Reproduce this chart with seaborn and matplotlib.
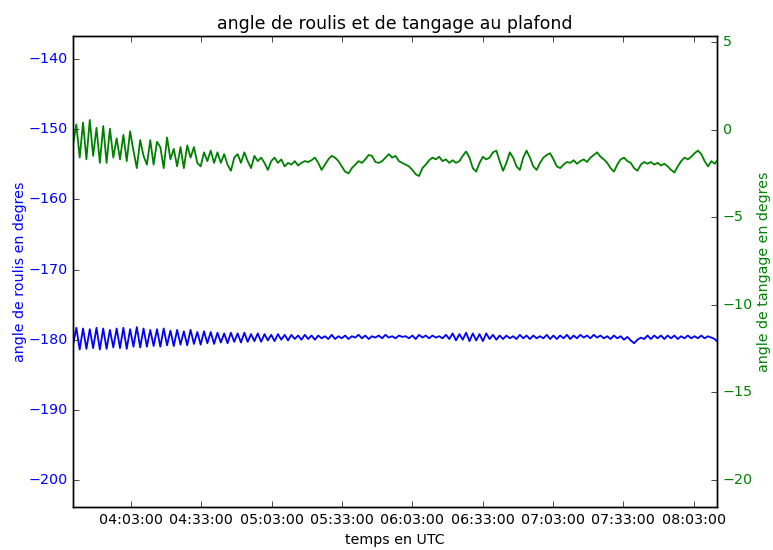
import matplotlib
matplotlib.use("Agg")
import matplotlib.pyplot as plt
import matplotlib.dates as mdates
import pandas as pd
import seaborn as sns

# Sampling of the attitude log (one sample every 86 s)
start_time = "2015-06-10 03:38:15"
sample_step = "86s"
x_start = "2015-06-10 03:38:15"
x_end = "2015-06-10 08:13:00"

# Roll angle (degrees)
roll = [
    -180.8, -178.3, -181.4, -178.4, -181.3, -178.5, -181.2, -178.3, -181.4, -178.4,
    -181.3, -178.6, -181.1, -178.4, -181.2, -178.3, -181.3, -178.5, -181.0, -178.2,
    -181.1, -178.4, -181.0, -178.6, -180.9, -178.5, -181.0, -178.4, -180.8, -178.7,
    -180.9, -178.6, -180.7, -178.8, -180.8, -178.6, -180.6, -178.9, -180.7, -178.8,
    -180.5, -178.9, -180.6, -179.0, -180.4, -179.1, -180.5, -179.0, -180.3, -179.1,
    -180.4, -179.0, -180.3, -179.2, -180.2, -179.1, -180.3, -179.2, -180.1, -179.3,
    -180.2, -179.2, -180.0, -179.3, -180.1, -179.3, -179.9, -179.4, -180.0, -179.3,
    -179.9, -179.4, -180.0, -179.4, -179.8, -179.5, -179.9, -179.3, -179.9, -179.5,
    -179.8, -179.4, -179.9, -179.5, -179.7, -179.3, -179.8, -179.4, -179.9, -179.5,
    -179.7, -179.4, -179.8, -179.3, -179.7, -179.5, -179.8, -179.4, -179.6, -179.5,
    -179.8, -179.4, -179.9, -179.3, -179.7, -179.4, -179.8, -179.4, -179.7, -179.5,
    -179.8, -179.3, -179.9, -179.1, -180.1, -179.2, -180.0, -179.0, -180.2, -179.1,
    -180.1, -179.2, -180.2, -179.1, -179.9, -179.3, -180.0, -179.4, -179.9, -179.4,
    -179.8, -179.5, -179.9, -179.3, -179.8, -179.4, -179.9, -179.4, -179.8, -179.5,
    -179.8, -179.3, -179.9, -179.4, -179.9, -179.4, -179.8, -179.3, -179.9, -179.4,
    -179.8, -179.3, -179.7, -179.4, -179.8, -179.3, -179.7, -179.4, -179.8, -179.5,
    -179.9, -179.4, -179.8, -179.5, -180.0, -179.6, -180.1, -180.5, -180.0, -179.7,
    -179.9, -179.4, -179.9, -179.4, -179.8, -179.4, -179.9, -179.4, -179.8, -179.4,
    -179.9, -179.5, -179.8, -179.4, -179.8, -179.5, -179.8, -179.4, -179.8, -179.5,
    -179.7, -179.9, -180.4, -179.8,
]

# Pitch angle (degrees)
pitch = [
    -0.9, 0.3, -1.6, 0.4, -1.7, 0.55, -1.5, 0.1, -1.9, 0.2,
    -1.9, 0.05, -1.6, -0.5, -1.7, -0.3, -1.8, -0.1, -1.2, -2.2,
    -0.6, -1.5, -2.0, -0.6, -2.0, -0.7, -1.0, -2.2, -0.45, -1.7,
    -1.1, -2.1, -1.0, -2.2, -0.9, -1.6, -1.0, -1.9, -2.1, -1.3,
    -1.8, -1.2, -1.9, -1.3, -1.9, -1.4, -2.0, -2.35, -1.6, -1.4,
    -1.9, -1.3, -1.8, -2.2, -1.5, -1.8, -1.6, -1.9, -2.3, -1.8,
    -1.6, -1.9, -1.7, -2.1, -1.9, -2.0, -1.8, -2.05,
    -1.9, -1.8, -1.85, -1.75, -1.6, -1.9, -2.3, -2.0, -1.7, -1.5,
    -1.6, -1.8, -2.1, -2.4, -2.5, -2.2, -2.0, -1.8, -1.9, -1.7,
    -1.45, -1.5, -1.85, -1.9, -1.8, -1.6, -1.4, -1.6, -1.5, -1.8,
    -1.9, -2.0, -2.1, -2.3, -2.55, -2.65, -2.2, -2.0, -1.75, -1.6,
    -1.7, -1.55, -1.8, -1.7, -1.9, -1.75, -1.9, -1.8, -1.5, -1.25,
    -1.6, -2.2, -2.4, -1.9, -1.55, -1.7, -1.6, -1.3, -1.2, -1.8,
    -2.35, -1.9, -1.3, -1.6, -2.1, -2.3, -1.6, -1.2, -1.6, -2.1,
    -2.3, -1.9, -1.6, -1.45, -1.35, -1.7, -2.1, -2.2, -2.0, -1.85,
    -1.9, -1.75, -1.95, -1.8, -1.7, -1.85, -1.6, -1.45, -1.3, -1.55,
    -1.7, -1.9, -2.2, -2.4, -2.0, -1.7, -1.6, -1.8, -1.9, -2.2,
    -2.35, -2.0, -1.85, -1.95, -1.85, -2.0, -1.9, -2.05, -1.95, -2.1,
    -2.3, -2.45, -2.1, -1.8, -1.6, -1.7, -1.55, -1.35, -1.2, -1.4,
    -1.8, -2.1, -1.8, -1.95, -1.7, -1.85,
]

roll_ticks = [-140, -150, -160, -170, -180, -190, -200]
pitch_ticks = [5, 0, -5, -10, -15, -20]
roll_limits = (-203.85, -136.7)
pitch_limits = (-21.54, 5.34)

time = pd.date_range(start=start_time, periods=len(roll), freq=sample_step)
df = pd.DataFrame({"temps": time, "roulis": roll, "tangage": pitch})

plt.style.use("classic")
plt.rcParams.update({
    "font.family": ["DejaVu Sans"],
    "font.size": 10.3,
    "axes.titlesize": 12.5,
    "axes.labelsize": 10.3,
    "xtick.labelsize": 10.3,
    "ytick.labelsize": 10.3,
    "savefig.facecolor": "white",
    "figure.facecolor": "white",
})

fig, ax1 = plt.subplots(figsize=(7.73, 5.5), dpi=100)
fig.subplots_adjust(left=0.0944, right=0.9276, bottom=0.0782, top=0.9345)

sns.lineplot(data=df, x="temps", y="roulis", ax=ax1, color="#0000ff", linewidth=1.3)
ax2 = ax1.twinx()
sns.lineplot(data=df, x="temps", y="tangage", ax=ax2, color="#008000", linewidth=1.3)

ax1.set_xlim(pd.Timestamp(x_start), pd.Timestamp(x_end))
ax1.set_ylim(*roll_limits)
ax2.set_ylim(*pitch_limits)
ax1.set_yticks(roll_ticks)
ax2.set_yticks(pitch_ticks)

ax1.xaxis.set_major_locator(mdates.MinuteLocator(byminute=[3, 33]))
ax1.xaxis.set_major_formatter(mdates.DateFormatter("%H:%M:%S"))

ax1.tick_params(axis="y", labelcolor="#0000ff")
ax2.tick_params(axis="y", labelcolor="#008000")

ax1.set_title("angle de roulis et de tangage au plafond")
ax1.set_xlabel("temps en UTC")
ax1.set_ylabel("angle de roulis en degres", color="#0000ff", labelpad=1)
ax2.set_ylabel("angle de tangage en degres", color="#008000", labelpad=3)

fig.savefig("out.png", dpi=100, facecolor="white")
